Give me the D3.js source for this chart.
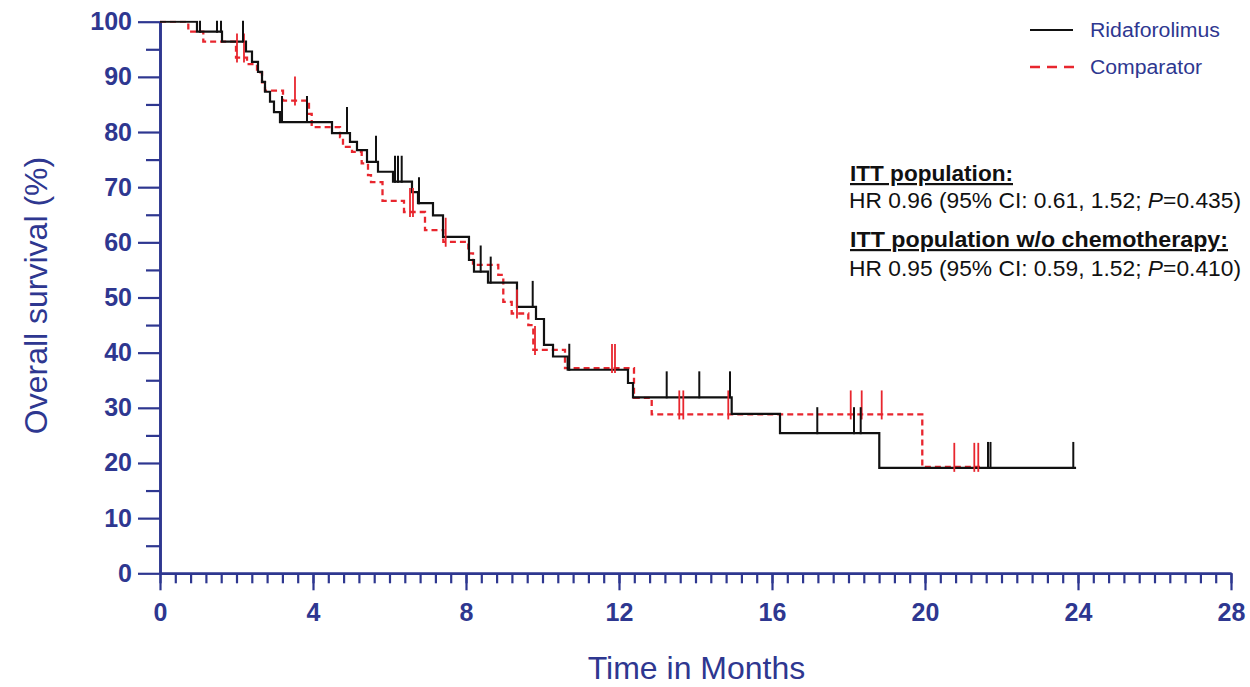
<!DOCTYPE html>
<html><head><meta charset="utf-8">
<script src="https://cdn.jsdelivr.net/npm/d3@7"></script>
<style>
html,body{margin:0;padding:0;background:#fff;}
svg{display:block;font-family:"Liberation Sans",Arial,sans-serif;}
</style></head>
<body>
<svg id="chart" width="1250" height="687"></svg>
<script>
// ---- Data ----
const ridaTimes = [0, 0.967, 1.621, 2.248, 2.405, 2.562, 2.667, 2.745, 2.876, 2.980, 3.137, 4.497, 4.967, 5.150, 5.412, 5.699, 6.092, 6.588, 6.745, 7.137, 7.399, 8.078, 8.209, 8.575, 9.333, 9.830, 10.039, 10.275, 10.659, 12.235, 12.366, 14.946, 16.209, 18.805];
const ridaSurv  = [100, 98.2, 96.4, 94.6, 92.7, 90.9, 89.1, 87.3, 85.5, 83.6, 81.8, 79.8, 78.2, 76.7, 74.6, 72.8, 71.0, 69.1, 67.1, 64.9, 61.0, 56.8, 54.7, 52.7, 48.3, 46.1, 41.4, 39.3, 36.9, 34.5, 31.9, 28.9, 25.4, 19.1];
const ridaEnd = 23.95;
const ridaCensor = [1.046, 1.490, 1.595, 2.170, 3.190, 3.843, 4.889, 5.647, 6.144, 6.222, 6.319, 6.771, 8.384, 8.646, 9.744, 10.70, 13.247, 14.099, 14.902, 17.184, 18.144, 18.319, 21.647, 21.712, 23.877];

const compTimes = [0, 0.740, 1.132, 1.987, 2.275, 2.536, 2.667, 2.745, 3.216, 3.895, 3.966, 4.706, 4.784, 5.020, 5.273, 5.438, 5.516, 5.817, 6.379, 6.928, 7.407, 8.060, 8.183, 8.844, 8.975, 9.195, 9.629, 9.760, 10.588, 12.392, 12.855, 19.929];
const compSurv  = [100, 98.2, 96.4, 93.5, 92.3, 90.8, 89.0, 87.5, 85.7, 83.3, 80.9, 79.1, 77.3, 76.4, 74.3, 72.2, 70.9, 67.5, 65.5, 62.2, 60.1, 58.0, 55.9, 54.1, 49.2, 47.1, 45.0, 40.5, 37.2, 31.8, 28.8, 19.3];
const compEnd = 21.438;
const compCensor = [2.013, 2.196, 3.529, 6.536, 6.614, 7.469, 9.333, 9.804, 11.817, 11.895, 13.576, 13.681, 14.857, 18.058, 18.345, 18.868, 20.766, 21.289, 21.393];

const xMajorTicks = [0, 4, 8, 12, 16, 20, 24, 28];
const yMajorTicks = [0, 10, 20, 30, 40, 50, 60, 70, 80, 90, 100];
const seriesNames = ["Ridaforolimus", "Comparator"];
const xTitle = "Time in Months";
const yTitle = "Overall survival (%)";

// ---- Layout ----
const NAVY = "#2e3790";
const svg = d3.select("#chart");
const x = d3.scaleLinear().domain([0, 28]).range([160, 1231]);
const y = d3.scaleLinear().domain([0, 100]).range([573.3, 21.7]);

svg.append("defs").append("clipPath").attr("id", "plotclip")
  .append("rect").attr("x", x(0)).attr("y", y(100) - 1).attr("width", x(28) - x(0)).attr("height", y(0) - y(100) + 20);

// axes
const xMinor = d3.range(0, 28.001, 0.4).map(v => +v.toFixed(2));
const gxMinor = svg.append("g").attr("transform", `translate(0,${y(0)})`)
  .call(d3.axisBottom(x).tickValues(xMinor).tickSize(10).tickSizeOuter(0).tickFormat(""));
const gx = svg.append("g").attr("transform", `translate(0,${y(0)})`)
  .call(d3.axisBottom(x).tickValues(xMajorTicks).tickSize(17).tickSizeOuter(0).tickPadding(13).tickFormat(d3.format("d")));
const yMinor = d3.range(5, 100, 10);
const gyMinor = svg.append("g").attr("transform", `translate(${x(0)},0)`)
  .call(d3.axisLeft(y).tickValues(yMinor).tickSize(14).tickSizeOuter(0).tickFormat(""));
const gy = svg.append("g").attr("transform", `translate(${x(0)},0)`)
  .call(d3.axisLeft(y).tickValues(yMajorTicks).tickSize(22).tickSizeOuter(0).tickPadding(6).tickFormat(d3.format("d")));

[gxMinor, gx, gyMinor, gy].forEach(g => {
  g.selectAll("path.domain").attr("stroke", NAVY).attr("stroke-width", 2.6);
  g.selectAll(".tick line").attr("stroke", NAVY).attr("stroke-width", 2.2);
  g.selectAll(".tick text").attr("fill", NAVY).style("font-size", "25px").style("font-weight", "bold")
    .style("font-family", '"Liberation Sans", Arial, sans-serif');
});

// axis titles
svg.append("text").attr("x", 696.5).attr("y", 679).attr("text-anchor", "middle")
  .attr("fill", NAVY).style("font-size", "32px").text(xTitle);
svg.append("text").attr("transform", "translate(47,295.5) rotate(-90)").attr("text-anchor", "middle")
  .attr("fill", NAVY).style("font-size", "32px").text(yTitle);

// step curves
function stepPoints(times, surv, end) {
  const pts = times.map((t, i) => [t, surv[i]]);
  pts.push([end, surv[surv.length - 1]]);
  return pts;
}
function survAt(times, surv, t) {
  let idx = 0;
  for (let i = 0; i < times.length; i++) if (times[i] <= t) idx = i;
  return surv[idx];
}
const line = d3.line().x(d => x(d[0])).y(d => y(d[1])).curve(d3.curveStepAfter);

const RED = "#e8262e";
const plot = svg.append("g").attr("clip-path", "url(#plotclip)");
plot.append("path").datum(stepPoints(compTimes, compSurv, compEnd))
  .attr("d", line).attr("fill", "none").attr("stroke", RED).attr("stroke-width", 2.3)
  .attr("stroke-dasharray", "6,4");
plot.append("path").datum(stepPoints(ridaTimes, ridaSurv, ridaEnd))
  .attr("d", line).attr("fill", "none").attr("stroke", "#111").attr("stroke-width", 2.2);

// censor marks
plot.append("g").selectAll("line").data(compCensor).join("line")
  .attr("x1", d => x(d)).attr("x2", d => x(d))
  .attr("y1", d => y(survAt(compTimes, compSurv, d)) + 5)
  .attr("y2", d => y(survAt(compTimes, compSurv, d)) - 24)
  .attr("stroke", RED).attr("stroke-width", 1.8);
plot.append("g").selectAll("line").data(ridaCensor).join("line")
  .attr("x1", d => x(d)).attr("x2", d => x(d))
  .attr("y1", d => y(survAt(ridaTimes, ridaSurv, d)) + 1)
  .attr("y2", d => y(survAt(ridaTimes, ridaSurv, d)) - 26)
  .attr("stroke", "#111").attr("stroke-width", 2);

// legend
const lg = svg.append("g");
lg.append("line").attr("x1", 1030).attr("x2", 1073).attr("y1", 30).attr("y2", 30)
  .attr("stroke", "#111").attr("stroke-width", 2.2);
lg.append("line").attr("x1", 1030).attr("x2", 1075).attr("y1", 67).attr("y2", 67)
  .attr("stroke", RED).attr("stroke-width", 2.3).attr("stroke-dasharray", "10,7");
lg.append("text").attr("x", 1090).attr("y", 37).attr("fill", NAVY).style("font-size", "20px")
  .attr("textLength", 130).attr("lengthAdjust", "spacingAndGlyphs").text(seriesNames[0]);
lg.append("text").attr("x", 1090).attr("y", 74).attr("fill", NAVY).style("font-size", "20px")
  .attr("textLength", 112).attr("lengthAdjust", "spacingAndGlyphs").text(seriesNames[1]);

// annotations
const ann = svg.append("g").attr("fill", "#111");
ann.append("text").attr("x", 850).attr("y", 181).style("font-size", "22px").style("font-weight", "bold")
  .style("text-decoration", "underline").attr("textLength", 163).attr("lengthAdjust", "spacingAndGlyphs")
  .text("ITT population:");
const t2 = ann.append("text").attr("x", 849).attr("y", 208).style("font-size", "22px")
  .attr("textLength", 392).attr("lengthAdjust", "spacingAndGlyphs");
t2.append("tspan").text("HR 0.96 (95% CI: 0.61, 1.52; ");
t2.append("tspan").style("font-style", "italic").text("P");
t2.append("tspan").text("=0.435)");
ann.append("text").attr("x", 850).attr("y", 247).style("font-size", "22px").style("font-weight", "bold")
  .style("text-decoration", "underline").attr("textLength", 378).attr("lengthAdjust", "spacingAndGlyphs")
  .text("ITT population w/o chemotherapy:");
const t4 = ann.append("text").attr("x", 849).attr("y", 276).style("font-size", "22px")
  .attr("textLength", 392).attr("lengthAdjust", "spacingAndGlyphs");
t4.append("tspan").text("HR 0.95 (95% CI: 0.59, 1.52; ");
t4.append("tspan").style("font-style", "italic").text("P");
t4.append("tspan").text("=0.410)");
</script>
</body></html>
